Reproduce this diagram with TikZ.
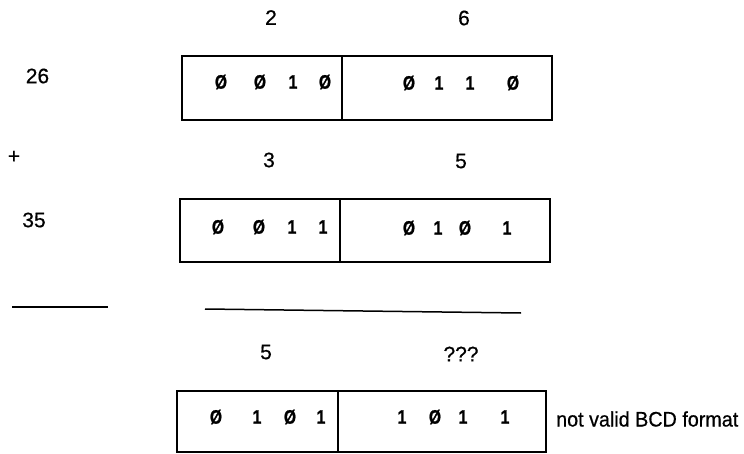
\documentclass[tikz,border=0pt]{standalone}
\usepackage{fontspec}
\setmainfont{Liberation Sans}
\newfontfamily\bitfont[FakeStretch=0.8,FakeBold=1]{Liberation Sans}
\newfontfamily\labfont[FakeBold=0.6]{Liberation Sans}
\newfontfamily\notefont[FakeStretch=0.94,FakeBold=0.6]{Liberation Sans}
\begin{document}
\begin{tikzpicture}[x=1pt,y=-1pt,
  lbl/.style={inner sep=0pt,font=\labfont\fontsize{21}{24}\selectfont},
  bit/.style={inner sep=0pt,font=\bitfont\bfseries\fontsize{19.5}{22}\selectfont},
  cell/.style={draw,line width=1.3pt,inner sep=0pt},
  rule/.style={line width=1.5pt}]
\useasboundingbox (0,0) rectangle (744,454);
% box 1
\node[cell,minimum width=160pt,minimum height=64pt] (b1l) at (262,88) {};
\node[cell,minimum width=210pt,minimum height=64pt] (b1r) at (447,88) {};
% box 2
\node[cell,minimum width=160pt,minimum height=63pt] (b2l) at (260,230.5) {};
\node[cell,minimum width=210pt,minimum height=63pt] (b2r) at (445,230.5) {};
% box 3
\node[cell,minimum width=161pt,minimum height=61pt] (b3l) at (257.5,421.5) {};
\node[cell,minimum width=208pt,minimum height=61pt] (b3r) at (442,421.5) {};
% labels
\node[lbl] (t2) at (271,17.5) {2};
\node[lbl] (t6) at (464,18) {6};
\node[lbl] (n26) at (37.5,76) {26};
\node[lbl] (plus) at (14,157) {+};
\node[lbl] (t3) at (269,160) {3};
\node[lbl] (t5) at (461,161) {5};
\node[lbl] (n35) at (34,220) {35};
\node[lbl] (r5) at (266,352) {5};
\node[lbl] (rq) at (461,354) {???};
\node[lbl,anchor=west,font=\notefont\fontsize{21}{24}\selectfont] (nv) at (556,419) {not valid BCD format};
% bits box 1
\node[bit] (a1) at (221,82) {Ø};
\node[bit] (a2) at (260,82) {Ø};
\node[bit] (a3) at (293,82) {1};
\node[bit] (a4) at (325,82) {Ø};
\node[bit] (a5) at (409,83) {Ø};
\node[bit] (a6) at (439,83) {1};
\node[bit] (a7) at (470,83) {1};
\node[bit] (a8) at (513,83) {Ø};
% bits box 2
\node[bit] (c1) at (218,227) {Ø};
\node[bit] (c2) at (259,227) {Ø};
\node[bit] (c3) at (292,227) {1};
\node[bit] (c4) at (323,227) {1};
\node[bit] (c5) at (409,228) {Ø};
\node[bit] (c6) at (438,228) {1};
\node[bit] (c7) at (465,228) {Ø};
\node[bit] (c8) at (507,228) {1};
% bits box 3
\node[bit] (d1) at (216,417) {Ø};
\node[bit] (d2) at (257,417) {1};
\node[bit] (d3) at (290,417) {Ø};
\node[bit] (d4) at (321,417) {1};
\node[bit] (d5) at (402,417) {1};
\node[bit] (d6) at (435,417) {Ø};
\node[bit] (d7) at (463,417) {1};
\node[bit] (d8) at (505,417) {1};
% rules
\coordinate (l1) at (12,307);
\coordinate (l2) at (108,307);
\coordinate (r1) at (205,309);
\coordinate (r2) at (521,313);
\draw[rule] (l1) -- (l2);
\draw[rule] (r1) -- (r2);
\end{tikzpicture}
\end{document}
